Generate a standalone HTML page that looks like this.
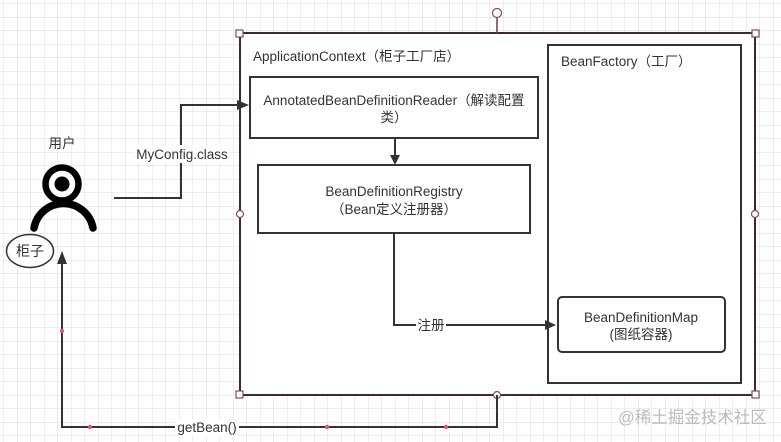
<!DOCTYPE html>
<html><head><meta charset="utf-8"><style>
html,body{margin:0;padding:0;background:#fff;}
svg{display:block;font-family:"Liberation Sans","Noto Sans CJK SC",sans-serif;}
</style></head><body>
<svg width="781" height="442" viewBox="0 0 781 442" xmlns="http://www.w3.org/2000/svg">
<defs>
<pattern id="g" width="13.5" height="13.5" patternUnits="userSpaceOnUse" x="4" y="4">
<path d="M13.5 0V13.5H0" fill="none" stroke="#dcdcdc" stroke-width="1"/>
</pattern>
</defs>
<rect width="781" height="442" fill="#fff"/>
<rect width="781" height="442" fill="url(#g)"/>
<rect x="240" y="33" width="515" height="362" fill="#fff" stroke="#3e2a2c" stroke-width="2"/>
<line x1="497" y1="13" x2="497" y2="33" stroke="#6b3a40" stroke-width="1.5"/>
<circle cx="497" cy="13" r="4.5" fill="#fff" stroke="#8a4a52" stroke-width="1.2"/>
<g fill="#fff" stroke="#8a4a52" stroke-width="1.2">
<rect x="236" y="30" width="7" height="7"/><rect x="752" y="30" width="7" height="7"/>
<rect x="236" y="391" width="7" height="7"/><rect x="752" y="391" width="7" height="7"/>
</g>
<text x="253" y="61" font-size="13.5" fill="#333">ApplicationContext（柜子工厂店）</text>
<rect x="548" y="45" width="193" height="338" fill="#fff" stroke="#333" stroke-width="2"/>
<text x="561" y="66" font-size="13.5" fill="#333">BeanFactory（工厂）</text>
<rect x="250" y="77" width="288" height="61" fill="#fff" stroke="#333" stroke-width="2"/>
<text x="394" y="105" font-size="13.5" fill="#333" text-anchor="middle">AnnotatedBeanDefinitionReader（解读配置</text>
<text x="394" y="122" font-size="13.5" fill="#333" text-anchor="middle">类）</text>
<line x1="395" y1="138" x2="395" y2="156" stroke="#333" stroke-width="2"/>
<path d="M390 155 L395 165 L400 155 Z" fill="#333"/>
<rect x="258" y="165" width="272" height="68" fill="#fff" stroke="#333" stroke-width="2"/>
<text x="394" y="196" font-size="13.5" fill="#333" text-anchor="middle">BeanDefinitionRegistry</text>
<text x="394" y="214" font-size="13.5" fill="#333" text-anchor="middle">（Bean定义注册器）</text>
<path d="M394 233 V325 H547" fill="none" stroke="#333" stroke-width="2"/>
<path d="M545 320 L556 325 L545 330 Z" fill="#333"/>
<rect x="416" y="317" width="30" height="16" fill="#fff"/>
<text x="431" y="330" font-size="13.5" fill="#333" text-anchor="middle">注册</text>
<rect x="558" y="297" width="167" height="55" rx="4" fill="#fff" stroke="#333" stroke-width="2"/>
<text x="641" y="322" font-size="13.5" fill="#333" text-anchor="middle">BeanDefinitionMap</text>
<text x="641" y="339" font-size="13.5" fill="#333" text-anchor="middle">(图纸容器)</text>
<g fill="#fff" stroke="#8a4a52" stroke-width="1.2">
<circle cx="240" cy="214" r="3.5"/><circle cx="755" cy="214" r="3.5"/><circle cx="497" cy="395" r="3.5"/>
</g>
<path d="M114 198 H181 V105 H240" fill="none" stroke="#333" stroke-width="2"/>
<path d="M237 100 L249 105 L237 110 Z" fill="#333"/>
<rect x="134" y="145" width="96" height="18" fill="#fff"/>
<text x="182" y="159" font-size="13.5" fill="#333" text-anchor="middle">MyConfig.class</text>
<text x="62" y="148" font-size="13.5" fill="#333" text-anchor="middle">用户</text>
<circle cx="62" cy="184" r="16.5" fill="#fff" stroke="#000" stroke-width="6.5"/>
<circle cx="62" cy="184" r="7.5" fill="#000"/>
<path d="M34 228 A30 30 0 0 1 93 228" fill="none" stroke="#000" stroke-width="7.5" stroke-linecap="round"/>
<ellipse cx="30" cy="251" rx="23.5" ry="16.5" fill="#fff" stroke="#333" stroke-width="1.5"/>
<text x="30" y="256" font-size="14" fill="#333" text-anchor="middle">柜子</text>
<path d="M497 395 V427 H62 V262" fill="none" stroke="#333" stroke-width="2"/>
<path d="M57 264 L62 251 L67 264 Z" fill="#333"/>
<rect x="175" y="420" width="64" height="16" fill="#fff"/>
<text x="207" y="432" font-size="13.5" fill="#333" text-anchor="middle">getBean()</text>
<g fill="#e05a66"><circle cx="62" cy="331" r="2.2"/><circle cx="90" cy="427" r="2.2"/><circle cx="327" cy="427" r="2.2"/><circle cx="446" cy="427" r="2.2"/></g>
<text x="618" y="423" font-size="16.5" fill="#bbb">@稀土掘金技术社区</text>
</svg>
</body></html>
